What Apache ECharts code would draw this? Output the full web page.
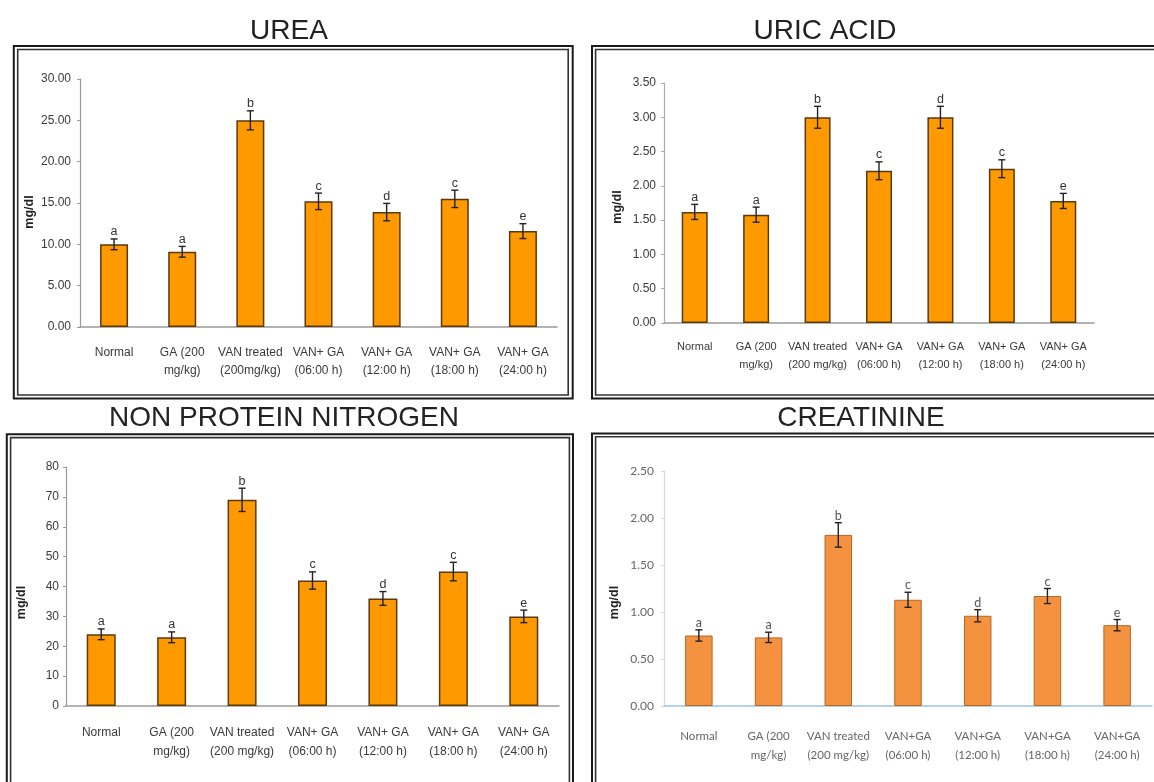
<!DOCTYPE html>
<html>
<head>
<meta charset="utf-8">
<title>Renal markers</title>
<script src="https://cdn.jsdelivr.net/npm/echarts@6/dist/echarts.min.js"></script>
<style>
  html, body { margin: 0; padding: 0; background: #fff; }
  #chart { width: 1154px; height: 782px; }
</style>
</head>
<body>
<div id="chart"></div>
<script>
// Treatment groups (x-axis categories)
const groupsUrea = ['Normal', 'GA (200\nmg/kg)', 'VAN treated\n(200mg/kg)', 'VAN+ GA\n(06:00 h)', 'VAN+ GA\n(12:00 h)', 'VAN+ GA\n(18:00 h)', 'VAN+ GA\n(24:00 h)'];
const groups = ['Normal', 'GA (200\nmg/kg)', 'VAN treated\n(200 mg/kg)', 'VAN+ GA\n(06:00 h)', 'VAN+ GA\n(12:00 h)', 'VAN+ GA\n(18:00 h)', 'VAN+ GA\n(24:00 h)'];
const groupsCreat = ['Normal', 'GA (200\nmg/kg)', 'VAN treated\n(200 mg/kg)', 'VAN+GA\n(06:00 h)', 'VAN+GA\n(12:00 h)', 'VAN+GA\n(18:00 h)', 'VAN+GA\n(24:00 h)'];

// Significance letters above each bar
const sigLetters = ['a', 'a', 'b', 'c', 'd', 'c', 'e'];

// Mean values and error (mg/dl)
const ureaMean = [10.0, 9.1, 25.0, 15.2, 13.9, 15.5, 11.6];
const ureaErr = [0.65, 0.65, 1.15, 1.0, 1.05, 1.05, 0.9];
const uricMean = [1.62, 1.58, 3.0, 2.22, 3.0, 2.25, 1.78];
const uricErr = [0.11, 0.11, 0.16, 0.13, 0.16, 0.13, 0.11];
const npnMean = [24, 23, 69, 42, 36, 45, 30];
const npnErr = [1.8, 1.8, 3.9, 2.9, 2.3, 3.1, 2.1];
const creatMean = [0.75, 0.73, 1.82, 1.13, 0.96, 1.17, 0.86];
const creatErr = [0.06, 0.055, 0.13, 0.08, 0.065, 0.08, 0.06];

// Y axis ticks
const ureaTicks = { min: 0, max: 30, interval: 5, digits: 2 };
const uricTicks = { min: 0, max: 3.5, interval: 0.5, digits: 2 };
const npnTicks = { min: 0, max: 80, interval: 10, digits: 0 };
const creatTicks = { min: 0, max: 2.5, interval: 0.5, digits: 2 };

const SANS = "'Liberation Sans', Arial, sans-serif";
const SOFT = "Lato, 'Open Sans', sans-serif";

// Panel styling
const panels = [
  { title: 'UREA', cats: groupsUrea, mean: ureaMean, err: ureaErr, ticks: ureaTicks,
    grid: { left: 80, top: 79, width: 477, height: 248 }, titlePos: [289, 31],
    barWidth: 28, fill: '#FF9900', border: '#5a3a10', borderW: 1.5,
    axisColor: '#9a9a9a', xAxisColor: '#9a9a9a', labelColor: '#3a3a3a', font: SANS, fontSize: 12, catSize: 12,
    yMargin: 9, xMargin: 16, lineH: 18.5, nameGap: 44, nameShift: 18, letterColor: '#333', letterFont: SANS },
  { title: 'URIC ACID', cats: groups, mean: uricMean, err: uricErr, ticks: uricTicks,
    grid: { left: 664, top: 83, width: 430, height: 240 }, titlePos: [825, 31],
    barWidth: 26, fill: '#FF9900', border: '#5a3a10', borderW: 1.5,
    axisColor: '#a8b0a0', xAxisColor: '#9a9a9a', labelColor: '#3a3a3a', font: SANS, fontSize: 12, catSize: 11,
    yMargin: 8, xMargin: 15, lineH: 18.3, nameGap: 40, nameShift: 8, letterColor: '#333', letterFont: SANS },
  { title: 'NON PROTEIN NITROGEN', cats: groups, mean: npnMean, err: npnErr, ticks: npnTicks,
    grid: { left: 66, top: 467, width: 493, height: 239 }, titlePos: [284, 418],
    barWidth: 29, fill: '#FF9900', border: '#5a3a10', borderW: 1.5,
    axisColor: '#9a9a9a', xAxisColor: '#9a9a9a', labelColor: '#3a3a3a', font: SANS, fontSize: 12, catSize: 12,
    yMargin: 7, xMargin: 17.5, lineH: 18.7, nameGap: 38, nameShift: 32, letterColor: '#333', letterFont: SANS },
  { title: 'CREATININE', cats: groupsCreat, mean: creatMean, err: creatErr, ticks: creatTicks,
    grid: { left: 664, top: 471, width: 488, height: 235 }, titlePos: [861, 418],
    barWidth: 27.5, fill: '#F59240', border: '#b0682a', borderW: 1,
    axisColor: '#d9d9d9', xAxisColor: '#9dc3e6', labelColor: '#666', font: SOFT, fontSize: 12, catSize: 11.5,
    yMargin: 10, xMargin: 21.5, lineH: 18.3, nameGap: 43, nameShift: 28, letterColor: '#555', letterFont: SOFT }
];

// Double-line frame boxes around each panel: [outer x, y, w, h], [inner x, y, w, h]
const frames = [
  [[13.8, 46, 558.9, 352.5], [17.7, 49.5, 550.5, 345.5]],
  [[592, 46, 600, 352.5], [595.6, 49.5, 600, 345.5]],
  [[6.8, 434.3, 566.2, 400], [10.6, 437.6, 558.8, 400]],
  [[592, 433.5, 600, 400], [595.6, 436.8, 600, 400]]
];

function errorRenderer(p) {
  return function (params, api) {
    const i = params.dataIndex;
    const xi = api.value(0);
    const m = api.value(1);
    const e = api.value(2);
    const top = api.coord([xi, m + e]);
    const bot = api.coord([xi, m - e]);
    const cap = 3.5;
    const ls = { stroke: '#222', lineWidth: 1.4 };
    return {
      type: 'group',
      children: [
        { type: 'line', shape: { x1: top[0], y1: top[1], x2: bot[0], y2: bot[1] }, style: ls },
        { type: 'line', shape: { x1: top[0] - cap, y1: top[1], x2: top[0] + cap, y2: top[1] }, style: ls },
        { type: 'line', shape: { x1: bot[0] - cap, y1: bot[1], x2: bot[0] + cap, y2: bot[1] }, style: ls },
        { type: 'text', x: top[0], y: top[1] - 7,
          style: { text: sigLetters[i], fill: p.letterColor, font: '12.5px ' + p.letterFont,
                   align: 'center', verticalAlign: 'middle' } }
      ]
    };
  };
}

const option = {
  backgroundColor: '#fff',
  animation: false,
  title: panels.map(p => ({
    text: p.title, left: p.titlePos[0], top: p.titlePos[1] - 14, textAlign: 'center', padding: 0,
    textStyle: { fontFamily: SANS, fontSize: 28, fontWeight: 'normal', color: '#222' }
  })),
  grid: panels.map(p => Object.assign({ containLabel: false }, p.grid)),
  xAxis: panels.map((p, k) => ({
    type: 'category', gridIndex: k, data: p.cats,
    axisLine: { lineStyle: { color: p.xAxisColor, width: 1.5 } },
    axisTick: { show: false },
    axisLabel: { interval: 0, margin: p.xMargin, lineHeight: p.lineH, color: p.labelColor,
                 fontFamily: p.font, fontSize: p.catSize }
  })),
  yAxis: panels.map((p, k) => ({
    type: 'value', gridIndex: k, min: p.ticks.min, max: p.ticks.max, interval: p.ticks.interval,
    name: 'mg/dl', nameLocation: 'middle', nameGap: p.nameGap, nameRotate: 90,
    nameTextStyle: { fontFamily: SANS, fontWeight: 'bold', fontSize: 12.5, color: '#222',
                     padding: [0, p.nameShift, 0, 0] },
    axisLine: { show: true, lineStyle: { color: p.axisColor, width: 1.2 } },
    axisTick: { show: true, length: 3, lineStyle: { color: p.axisColor } },
    splitLine: { show: false },
    axisLabel: { margin: p.yMargin, color: p.labelColor, fontFamily: p.font, fontSize: p.fontSize,
                 formatter: v => v.toFixed(p.ticks.digits) }
  })),
  series: panels.flatMap((p, k) => [
    { type: 'bar', xAxisIndex: k, yAxisIndex: k, data: p.mean, barWidth: p.barWidth,
      itemStyle: { color: p.fill, borderColor: p.border, borderWidth: p.borderW } },
    { type: 'custom', xAxisIndex: k, yAxisIndex: k, z: 5, clip: false,
      data: p.mean.map((m, i) => [i, m, p.err[i]]),
      encode: { x: 0, y: 1 },
      renderItem: errorRenderer(p) }
  ]),
  graphic: frames.flatMap(f => [
    { type: 'rect', shape: { x: f[0][0], y: f[0][1], width: f[0][2], height: f[0][3] },
      style: { fill: 'none', stroke: '#1a1a1a', lineWidth: 2 }, silent: true },
    { type: 'rect', shape: { x: f[1][0], y: f[1][1], width: f[1][2], height: f[1][3] },
      style: { fill: 'none', stroke: '#333', lineWidth: 1.6 }, silent: true }
  ])
};

const chart = echarts.init(document.getElementById('chart'), null, { renderer: 'canvas' });
chart.setOption(option);
</script>
</body>
</html>
